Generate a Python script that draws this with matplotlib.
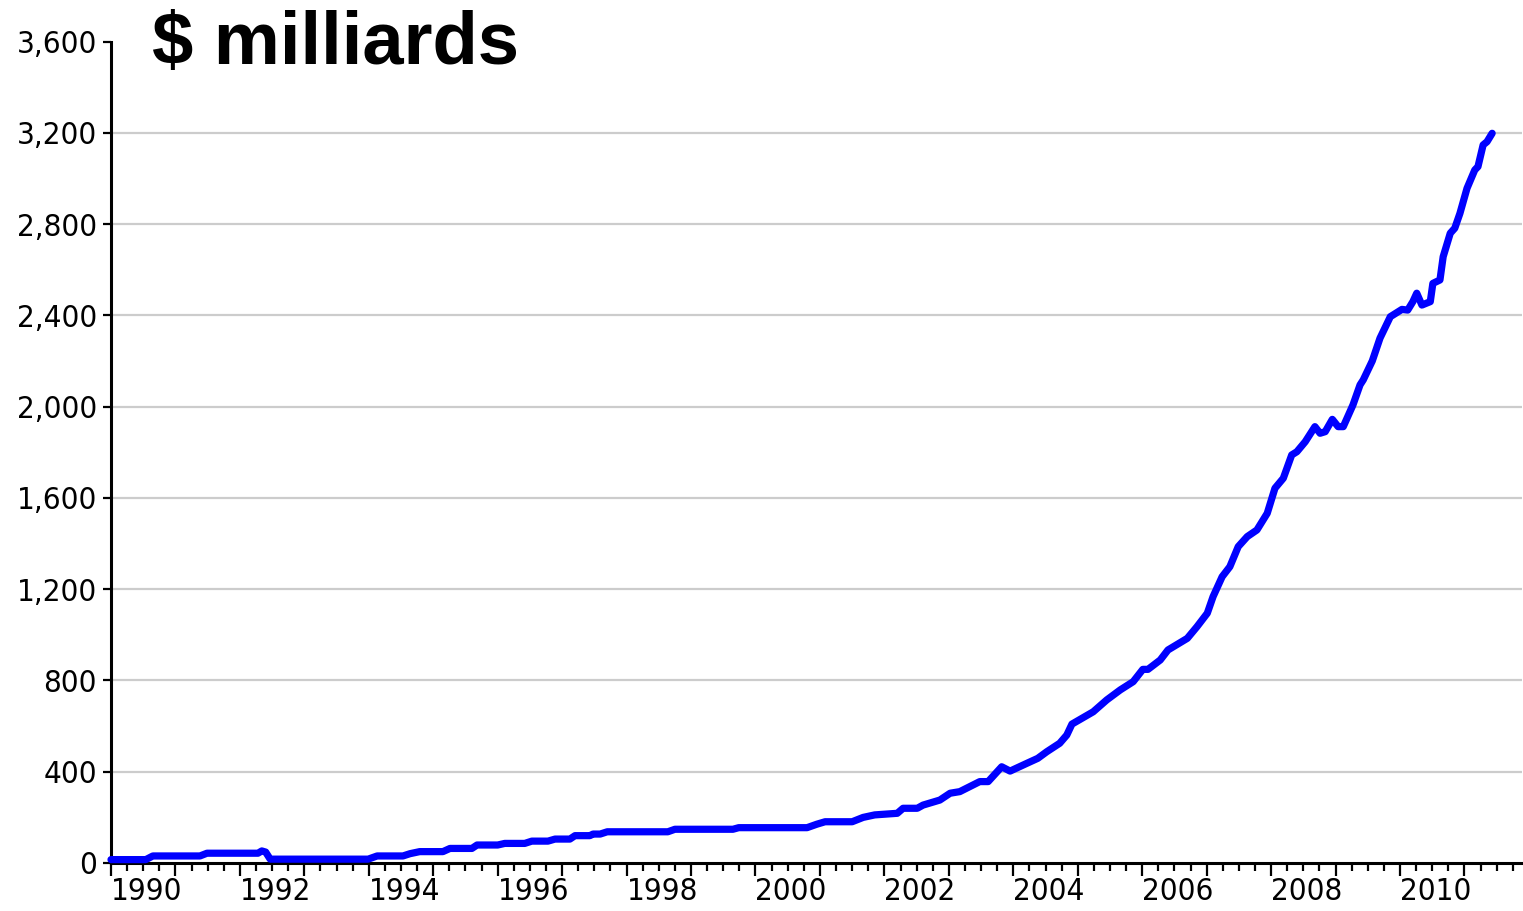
import matplotlib
matplotlib.use('Agg')
import matplotlib.pyplot as plt
from matplotlib import font_manager
from matplotlib.ticker import MultipleLocator, FixedLocator, FuncFormatter

# ---- data (decimal year, $ milliards) ----
years = [1990.00, 1990.54, 1990.65, 1991.38, 1991.49, 1992.28, 1992.34, 1992.40, 1992.47,
         1993.99, 1994.13, 1994.53, 1994.64, 1994.79, 1995.15, 1995.26, 1995.60, 1995.68,
         1996.00, 1996.11, 1996.42, 1996.53, 1996.78, 1996.89, 1997.12, 1997.20, 1997.43,
         1997.48, 1997.59, 1997.70, 1998.64, 1998.75, 1999.65, 1999.74, 2000.80, 2000.95,
         2001.08, 2001.50, 2001.67, 2001.85, 2002.20, 2002.29, 2002.51, 2002.60, 2002.86,
         2003.02, 2003.17, 2003.48, 2003.61, 2003.82, 2003.95, 2004.21, 2004.38, 2004.52,
         2004.72, 2004.83, 2004.91, 2005.24, 2005.45, 2005.66, 2005.86, 2006.01, 2006.09,
         2006.28, 2006.40, 2006.70, 2006.85, 2007.01, 2007.10, 2007.24, 2007.36, 2007.49,
         2007.63, 2007.78, 2007.94, 2008.06, 2008.19, 2008.32, 2008.40, 2008.53, 2008.68,
         2008.76, 2008.84, 2008.95, 2009.04, 2009.12, 2009.27, 2009.38, 2009.43, 2009.57,
         2009.69, 2009.85, 2010.03, 2010.12, 2010.20, 2010.26, 2010.34, 2010.47, 2010.51,
         2010.62, 2010.67, 2010.78, 2010.85, 2010.93, 2011.04, 2011.16, 2011.21, 2011.29,
         2011.35, 2011.43]
values = [14, 14, 30, 30, 42, 42, 52, 47, 16,
          16, 30, 30, 40, 49, 49, 63, 63, 78,
          78, 85, 85, 95, 95, 104, 104, 119, 119,
          126, 126, 136, 136, 147, 147, 154, 154, 169,
          180, 180, 199, 210, 217, 239, 239, 253, 275,
          305, 312, 356, 356, 421, 402, 436, 458, 487,
          524, 560, 608, 662, 714, 758, 794, 848, 848,
          889, 933, 984, 1035, 1094, 1167, 1254, 1298, 1386,
          1430, 1459, 1532, 1642, 1686, 1788, 1802, 1846, 1912,
          1883, 1890, 1944, 1912, 1912, 2007, 2095, 2117, 2200,
          2300, 2394, 2426, 2423, 2460, 2497, 2445, 2460, 2540,
          2555, 2657, 2760, 2782, 2847, 2957, 3037, 3052, 3147,
          3161, 3198]
ytick_values = [0, 400, 800, 1200, 1600, 2000, 2400, 2800, 3200, 3600]
xlabel_years = [1990, 1992, 1994, 1996, 1998, 2000, 2002, 2004, 2006, 2008, 2010]
title_text = "$ milliards"

# ---- fonts: look for a narrow / condensed face ----
narrow_path = None
for key in ['LiberationSansNarrow-Regular', 'DejaVuSansCondensed.ttf', 'Condensed-Regular',
            'SemiCondensed-Regular', 'Narrow']:
    for f in font_manager.fontManager.ttflist:
        base = f.fname.split('/')[-1]
        if key in base and 'Bold' not in base and 'Oblique' not in base and 'Italic' not in base:
            narrow_path = f.fname
            break
    if narrow_path:
        break
if narrow_path:
    tick_fp = font_manager.FontProperties(fname=narrow_path, size=22.5)
else:
    tick_fp = font_manager.FontProperties(family='DejaVu Sans', size=19)

names = {f.name for f in font_manager.fontManager.ttflist}
bold_family = 'Liberation Sans' if 'Liberation Sans' in names else 'DejaVu Sans'

fig = plt.figure(figsize=(15.23, 9.11), dpi=100)
ax = fig.add_axes([0.07288, 0.05291, 0.92646, 0.90143])

# gridlines (not at 0 or top)
for v in ytick_values[1:-1]:
    ax.axhline(v, color='#cccccc', lw=1.6, zorder=1)

ax.plot(years, values, color='#0000ff', lw=5.2, solid_capstyle='round',
        solid_joinstyle='round', zorder=3, clip_on=False)

ax.set_xlim(1990, 2011.893)
ax.set_ylim(0, 3600)

for s in ['top', 'right']:
    ax.spines[s].set_visible(False)
for s in ['left', 'bottom']:
    ax.spines[s].set_linewidth(2.2)
    ax.spines[s].set_color('black')

ax.yaxis.set_major_locator(FixedLocator(ytick_values))
ax.yaxis.set_major_formatter(FuncFormatter(lambda v, p: f"{v:,.0f}"))
ax.tick_params(axis='y', direction='out', length=6, width=1.6, pad=4, colors='black')
for lab in ax.get_yticklabels():
    lab.set_fontproperties(tick_fp)

ax.xaxis.set_major_locator(MultipleLocator(1))
ax.xaxis.set_minor_locator(MultipleLocator(0.25))
ax.tick_params(axis='x', which='major', direction='out', length=9.5, width=1.6,
               labelbottom=False)
ax.tick_params(axis='x', which='minor', direction='out', length=5.5, width=1.6)

for yr in xlabel_years:
    ax.text(yr, -0.017, str(yr), transform=ax.get_xaxis_transform(),
            ha='left', va='top', fontproperties=tick_fp, clip_on=False)

fig.text(0.0998, 0.9297, title_text, fontsize=53.5, fontweight='bold',
         family=bold_family, ha='left', va='baseline')

fig.savefig('out.png', dpi=100)
